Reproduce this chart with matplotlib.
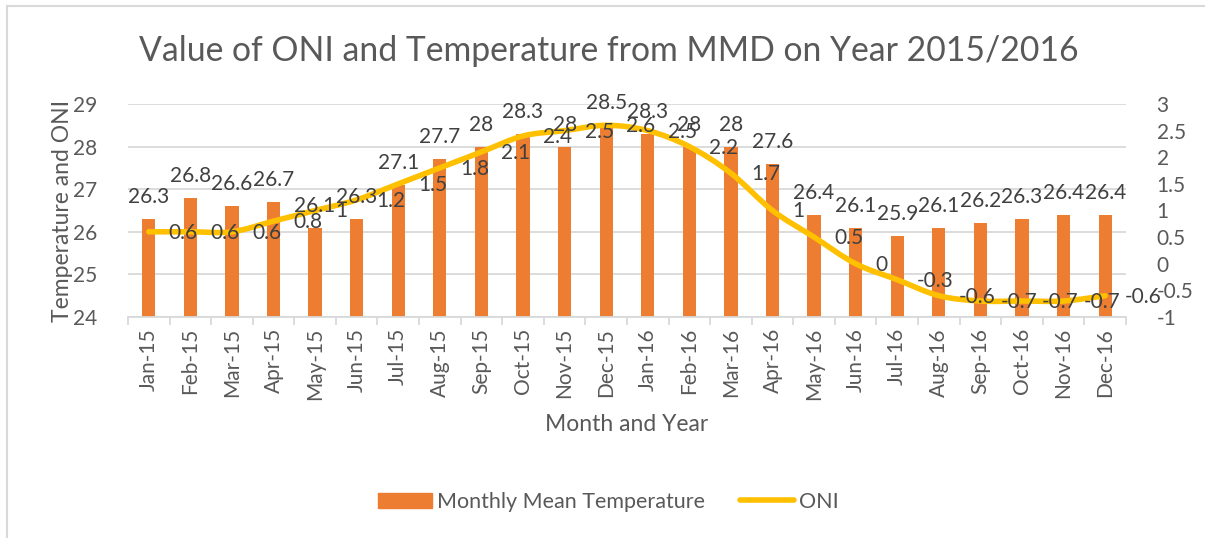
import numpy as np
import matplotlib.pyplot as plt
from matplotlib.path import Path
from matplotlib.patches import PathPatch, Patch
from matplotlib.lines import Line2D

plt.rcParams['font.family'] = ['Lato', 'DejaVu Sans']

MONTHS = ['Jan-15', 'Feb-15', 'Mar-15', 'Apr-15', 'May-15', 'Jun-15',
          'Jul-15', 'Aug-15', 'Sep-15', 'Oct-15', 'Nov-15', 'Dec-15',
          'Jan-16', 'Feb-16', 'Mar-16', 'Apr-16', 'May-16', 'Jun-16',
          'Jul-16', 'Aug-16', 'Sep-16', 'Oct-16', 'Nov-16', 'Dec-16']
TEMPERATURE = [26.3, 26.8, 26.6, 26.7, 26.1, 26.3, 27.1, 27.7, 28, 28.3, 28, 28.5,
               28.3, 28, 28, 27.6, 26.4, 26.1, 25.9, 26.1, 26.2, 26.3, 26.4, 26.4]
ONI = [0.6, 0.6, 0.6, 0.8, 1, 1.2, 1.5, 1.8, 2.1, 2.4, 2.5, 2.6,
       2.5, 2.2, 1.7, 1, 0.5, 0, -0.3, -0.6, -0.7, -0.7, -0.7, -0.6]

ORANGE = '#ED7D31'
YELLOW = '#FFC000'
GREY = '#595959'
GRID = '#D9D9D9'


def smooth_path(xs, ys):
    """Bezier path through the points (Excel-like smoothed line)"""
    pts = list(zip(xs, ys))
    verts = [pts[0]]
    codes = [Path.MOVETO]
    n = len(pts)
    for i in range(n - 1):
        p0 = pts[max(i - 1, 0)]
        p1 = pts[i]
        p2 = pts[i + 1]
        p3 = pts[min(i + 2, n - 1)]
        c1 = (p1[0] + (p2[0] - p0[0]) / 6, p1[1] + (p2[1] - p0[1]) / 6)
        c2 = (p2[0] - (p3[0] - p1[0]) / 6, p2[1] - (p3[1] - p1[1]) / 6)
        verts += [c1, c2, p2]
        codes += [Path.CURVE4] * 3
    return Path(verts, codes)


def main():
    fig = plt.figure(figsize=(12.05, 5.38), dpi=100)
    ax = fig.add_axes([0.1062, 0.4108, 0.8282, 0.3959])
    ax2 = ax.twinx()

    x = np.arange(len(MONTHS))
    ax.bar(x, TEMPERATURE, width=0.32, color=ORANGE, zorder=2)
    ax.set_ylim(24, 29)
    ax.set_xlim(-0.5, len(MONTHS) - 0.5)
    ax.set_yticks(range(24, 30))
    ax.yaxis.grid(True, color=GRID, linewidth=1.3)
    ax.set_axisbelow(True)

    ax2.add_patch(PathPatch(smooth_path(x, ONI), fill=False, edgecolor=YELLOW,
                            linewidth=4, capstyle='round', joinstyle='round'))
    ax2.set_ylim(-1, 3)
    ax2.set_yticks(np.arange(-1, 3.01, 0.5))
    ax2.set_yticklabels(['%g' % v for v in np.arange(-1, 3.01, 0.5)])

    for a in (ax, ax2):
        for s in a.spines.values():
            s.set_visible(False)
        a.tick_params(axis='y', length=0, labelsize=15, colors=GREY)
    ax.tick_params(axis='y', pad=22)
    ax2.tick_params(axis='y', pad=22)
    ax.spines['bottom'].set_visible(True)
    ax.spines['bottom'].set_color(GRID)
    ax.spines['bottom'].set_linewidth(1.3)

    ax.set_xticks(x)
    ax.set_xticklabels(MONTHS, rotation=90)
    ax.tick_params(axis='x', length=0, labelsize=15, colors=GREY, pad=8)
    ax.set_xticks(np.arange(-0.5, len(MONTHS)), minor=True)
    ax.tick_params(axis='x', which='minor', length=6, color=GRID, width=1.3)

    for xi, t in zip(x, TEMPERATURE):
        ax2.annotate('%g' % t, xy=(xi, t), xycoords=ax.transData,
                     xytext=(0, 12), textcoords='offset pixels',
                     ha='center', va='bottom', fontsize=15, color='#404040', zorder=5)
    for xi, v in zip(x, ONI):
        ax2.annotate('%g' % v, xy=(xi, v), xytext=(20, -1), textcoords='offset pixels',
                     ha='left', va='center', fontsize=15, color='#404040', zorder=5)

    ax.set_ylabel('Temperature and ONI', fontsize=16.5, color=GREY, labelpad=0)
    ax.set_xlabel('Month and Year', fontsize=16.5, color=GREY, labelpad=10)
    fig.text(0.505, 0.905, 'Value of ONI and Temperature from MMD on Year 2015/2016',
             ha='center', va='center', fontsize=24.3, color=GREY)

    handles = [Patch(color=ORANGE), Line2D([], [], color=YELLOW, linewidth=4,
                                            solid_capstyle='round')]
    fig.legend(handles, ['Monthly Mean Temperature', 'ONI'], loc='center',
               bbox_to_anchor=(0.505, 0.067), ncol=2, frameon=False,
               fontsize=15.5, labelcolor=GREY, handlelength=2.5,
               handletextpad=0.25, columnspacing=1.6)

    fig.add_artist(Line2D([7 / 1205, 7 / 1205], [0, 1 - 6 / 538],
                          transform=fig.transFigure, color=GRID, linewidth=1.5))
    fig.add_artist(Line2D([7 / 1205, 1], [1 - 6 / 538, 1 - 6 / 538],
                          transform=fig.transFigure, color=GRID, linewidth=1.5))

    fig.savefig('out.png', dpi=100)


if __name__ == '__main__':
    main()
